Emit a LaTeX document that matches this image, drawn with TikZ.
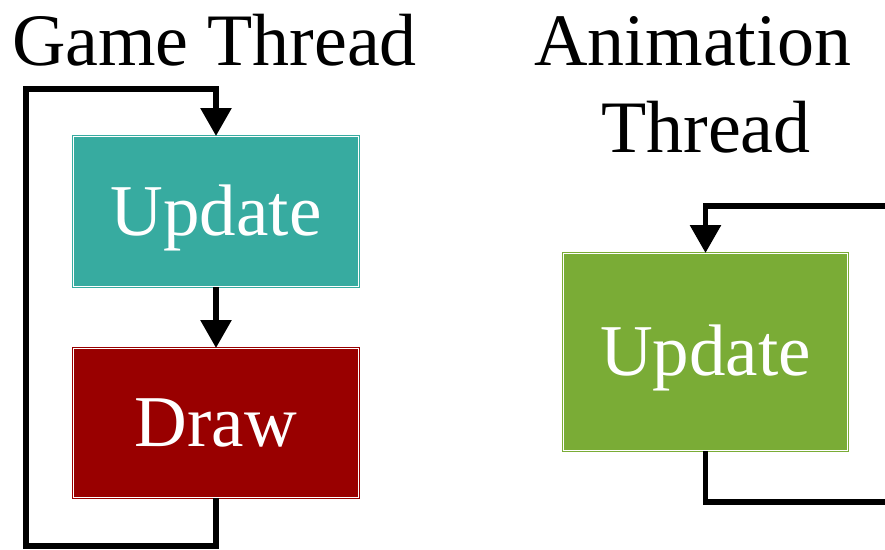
\documentclass[tikz,border=0pt]{standalone}
\usepackage{fontspec}
\setmainfont{Liberation Serif}
\usetikzlibrary{arrows.meta}
\definecolor{tealbox}{RGB}{55,171,160}
\definecolor{redbox}{RGB}{153,0,0}
\definecolor{greenbox}{RGB}{122,172,54}
\tikzset{
  procbox/.style={rectangle, draw=#1, fill=#1, double=white, double distance=1.5pt, line width=1pt,
    text=white, font=\fontsize{73pt}{84pt}\selectfont, text height=47pt, text depth=0pt, inner sep=0pt},
  title/.style={font=\fontsize{74pt}{87pt}\selectfont, inner sep=0pt, align=center},
  flow/.style={line width=5.8pt, line join=miter, -{Triangle[width=30pt,length=28pt]}},
  flowplain/.style={line width=5.8pt, line join=miter},
}
\begin{document}
\begin{tikzpicture}[x=1pt,y=-1pt]
\useasboundingbox (0,0) rectangle (885,549);
\clip (0,0) rectangle (885,549);
% titles
\node[title, anchor=base] (gtitle) at (214.5,65) {Game Thread};
\node[title, anchor=base] (atitle) at (702,65) {Animation\kern0.25em};
\node[title, anchor=base] (atitle2) at (706,152) {Thread};
% boxes
\node[procbox=tealbox, minimum width=285pt, minimum height=150pt] (gup) at (216,211.5) {Update};
\node[procbox=redbox, minimum width=285pt, minimum height=149pt] (gdraw) at (216,423) {Draw};
\node[procbox=greenbox, minimum width=284pt, minimum height=197pt] (aup) at (705.5,352) {Update};
% game loop
\coordinate (gbl) at (26,546);
\coordinate (gtl) at (26,89);
\draw[flow] (gup.south) -- (gdraw.north);
\draw[flow] (gdraw.south) -- (gdraw.south |- gbl) -- (gbl) -- (gtl) -| (gup.north);
% animation loop
\coordinate (abr) at (895,502);
\coordinate (atr) at (895,206);
\draw[flowplain] (aup.south) |- (abr);
\draw[flow] (atr) -| (aup.north);
\end{tikzpicture}
\end{document}
